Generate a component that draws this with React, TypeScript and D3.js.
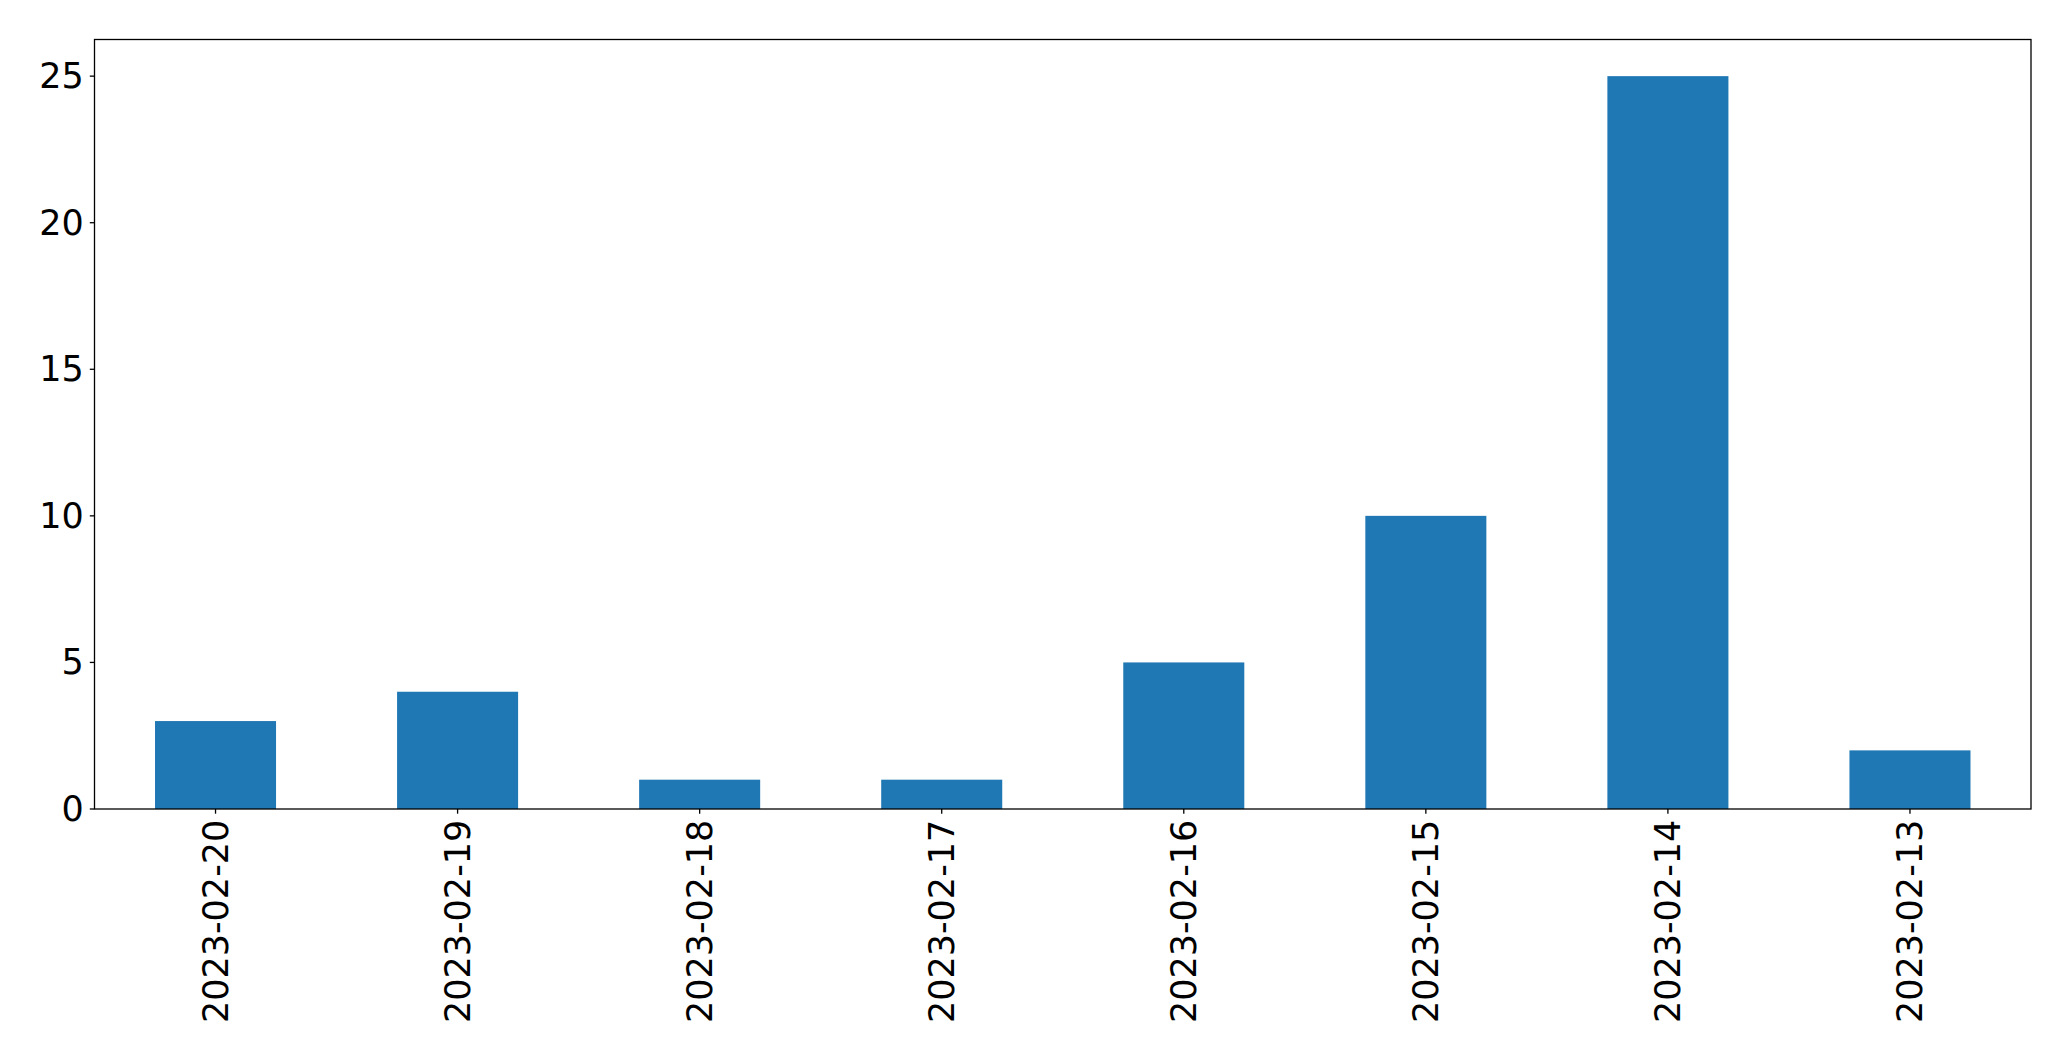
import React from "react";
import * as d3 from "d3";

const categories: string[] = [
  "2023-02-20",
  "2023-02-19",
  "2023-02-18",
  "2023-02-17",
  "2023-02-16",
  "2023-02-15",
  "2023-02-14",
  "2023-02-13",
];
const values: number[] = [3, 4, 1, 1, 5, 10, 25, 2];
const yTicks: number[] = [0, 5, 10, 15, 20, 25];

const W = 2071;
const H = 1061;
const margin = { left: 94.5, right: W - 2031, top: 39.5, bottom: H - 809 };
const FONT = "'DejaVu Sans', sans-serif";
const FS = 35;
const TICK = 4.7;

export default function App() {
  const x = d3
    .scaleBand<string>()
    .domain(categories)
    .range([margin.left, W - margin.right])
    .paddingInner(0.5)
    .paddingOuter(0.25);
  const y = d3
    .scaleLinear()
    .domain([0, 26.25])
    .range([H - margin.bottom, margin.top]);

  const x0 = margin.left;
  const x1 = W - margin.right;
  const y0 = H - margin.bottom;
  const y1 = margin.top;

  return (
    <svg
      width={W}
      height={H}
      style={{ position: "absolute", left: 0, top: 0, background: "#fff" }}
    >
      <rect x={0} y={0} width={W} height={H} fill="#fff" />
      {categories.map((c, i) => (
        <rect
          key={c}
          x={x(c)!}
          y={y(values[i])}
          width={x.bandwidth()}
          height={y(0) - y(values[i])}
          fill="#1f77b4"
        />
      ))}
      <rect
        x={x0}
        y={y1}
        width={x1 - x0}
        height={y0 - y1}
        fill="none"
        stroke="#000"
        strokeWidth={1.3}
      />
      {yTicks.map((t) => (
        <g key={t}>
          <line
            x1={x0 - TICK}
            x2={x0}
            y1={y(t)}
            y2={y(t)}
            stroke="#000"
            strokeWidth={1.3}
          />
          <text
            x={x0 - TICK - 6}
            y={y(t)}
            textAnchor="end"
            dominantBaseline="central"
            fontFamily={FONT}
            fontSize={FS}
            fill="#000"
          >
            {t}
          </text>
        </g>
      ))}
      {categories.map((c) => {
        const cx = x(c)! + x.bandwidth() / 2;
        return (
          <g key={c}>
            <line
              x1={cx}
              x2={cx}
              y1={y0}
              y2={y0 + TICK}
              stroke="#000"
              strokeWidth={1.3}
            />
            <text
              transform={`translate(${cx},${y0 + TICK + 6}) rotate(-90)`}
              textAnchor="end"
              dominantBaseline="central"
              fontFamily={FONT}
              fontSize={FS}
              fill="#000"
            >
              {c}
            </text>
          </g>
        );
      })}
    </svg>
  );
}
